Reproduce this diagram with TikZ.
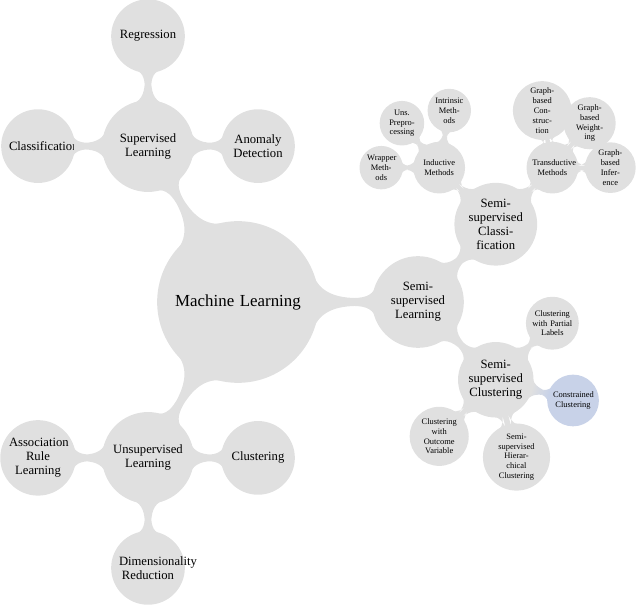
\documentclass[tikz,border=0pt]{standalone}
\usepackage{fontspec}
\setmainfont{Liberation Serif}
\usetikzlibrary{mindmap,calc}
\definecolor{mmgray}{RGB}{224,224,224}
\definecolor{mmblue}{RGB}{200,210,232}
\begin{document}
\begin{tikzpicture}[
		mindmap,
		concept color=mmgray,
		every node/.style={concept,text=black,align=center,inner sep=1pt},
		rootc/.style={minimum size=4cm,text width=3.5cm,font=\fontsize{12}{14}\selectfont},
		levela/.style={minimum size=2.25cm,text width=1.8cm,font=\fontsize{9}{10}\selectfont},
		levelb/.style={minimum size=1.8cm,text width=1.45cm,font=\fontsize{9}{10}\selectfont},
		levelc/.style={minimum size=1.25cm,text width=1cm,font=\fontsize{6}{7}\selectfont},
		leveld/.style={minimum size=1cm,text width=0.7cm,font=\fontsize{6}{7}\selectfont},
		mmbar/.style={circle connection bar}
		]
		\useasboundingbox (0,0) rectangle (16,15.1);
		\node[rootc] (ml) at (5.95,7.55) {Machine Learning};
		\node[levela] (sup) at ($(ml)+(120:4.5)$) {Supervised Learning};
		\node[levela] (unsup) at ($(ml)+(240:4.5)$) {Unsupervised Learning};
		\node[levela] (ssl) at ($(ml)+(0:4.5)$) {Semi-supervised Learning};
		\node[levelb] (reg) at ($(sup)+(90:2.75)$) {Regression};
		\node[levelb] (cls) at ($(sup)+(180:2.75)$) {Classification};
		\node[levelb] (anom) at ($(sup)+(0:2.75)$) {Anomaly Detection};
		\node[levelb] (assoc) at ($(unsup)+(180:2.75)$) {Association Rule Learning};
		\node[levelb] (clu) at ($(unsup)+(0:2.75)$) {Clustering};
		\node[levelb] (dim) at ($(unsup)+(270:2.75)$) {Dimensionality Reduction};
		\node[levelb] (ssclass) at ($(ssl)+(45:2.75)$) {Semi-supervised Classi\-fication};
		\node[levelb] (ssclust) at ($(ssl)+(-45:2.75)$) {Semi-supervised Clustering};
		\node[levelc] (ind) at ($(ssclass)+(135:2)$) {Inductive Methods};
		\node[levelc] (trans) at ($(ssclass)+(45:2)$) {Transductive Methods};
		\node[leveld] (wrap) at ($(ind)+(180:1.45)$) {Wrapper Meth\-ods};
		\node[leveld] (unspre) at ($(ind)+(130:1.45)$) {Uns. Prepro\-cessing};
		\node[leveld] (intr) at ($(ind)+(80:1.45)$) {Intrinsic Meth\-ods};
		\node[leveld] (gcons) at ($(trans)+(100:1.45)$) {Graph-based Con\-struc\-tion};
		\node[leveld] (gweigh) at ($(trans)+(50:1.45)$) {Graph-based Weight\-ing};
		\node[leveld] (ginf) at ($(trans)+(0:1.45)$) {Graph-based Infer\-ence};
		\node[levelc] (partial) at ($(ssclust)+(45:2)$) {Clustering with Partial Labels};
		\node[levelc,concept color=mmblue] (constr) at ($(ssclust)+(-15:2)$) {Constrained Clustering};
		\node[levelc] (hier) at ($(ssclust)+(-75:2)$) {Semi-supervised Hierar\-chical Clustering};
		\node[levelc] (outc) at ($(ssclust)+(-135:2)$) {Clustering with Outcome Variable};
		\path (ml) to[mmbar] (sup);
		\path (ml) to[mmbar] (unsup);
		\path (ml) to[mmbar] (ssl);
		\path (sup) to[mmbar] (reg);
		\path (sup) to[mmbar] (cls);
		\path (sup) to[mmbar] (anom);
		\path (unsup) to[mmbar] (assoc);
		\path (unsup) to[mmbar] (clu);
		\path (unsup) to[mmbar] (dim);
		\path (ssl) to[mmbar] (ssclass);
		\path (ssl) to[mmbar] (ssclust);
		\path (ssclass) to[mmbar] (ind);
		\path (ssclass) to[mmbar] (trans);
		\path (ind) to[mmbar] (wrap);
		\path (ind) to[mmbar] (unspre);
		\path (ind) to[mmbar] (intr);
		\path (trans) to[mmbar] (gcons);
		\path (trans) to[mmbar] (gweigh);
		\path (trans) to[mmbar] (ginf);
		\path (ssclust) to[mmbar] (partial);
		\path (ssclust) to[mmbar] (hier);
		\path (ssclust) to[mmbar] (outc);
		\path (ssclust) to[circle connection bar switch color=from (mmgray) to (mmblue)] (constr);
	\end{tikzpicture}
\end{document}
